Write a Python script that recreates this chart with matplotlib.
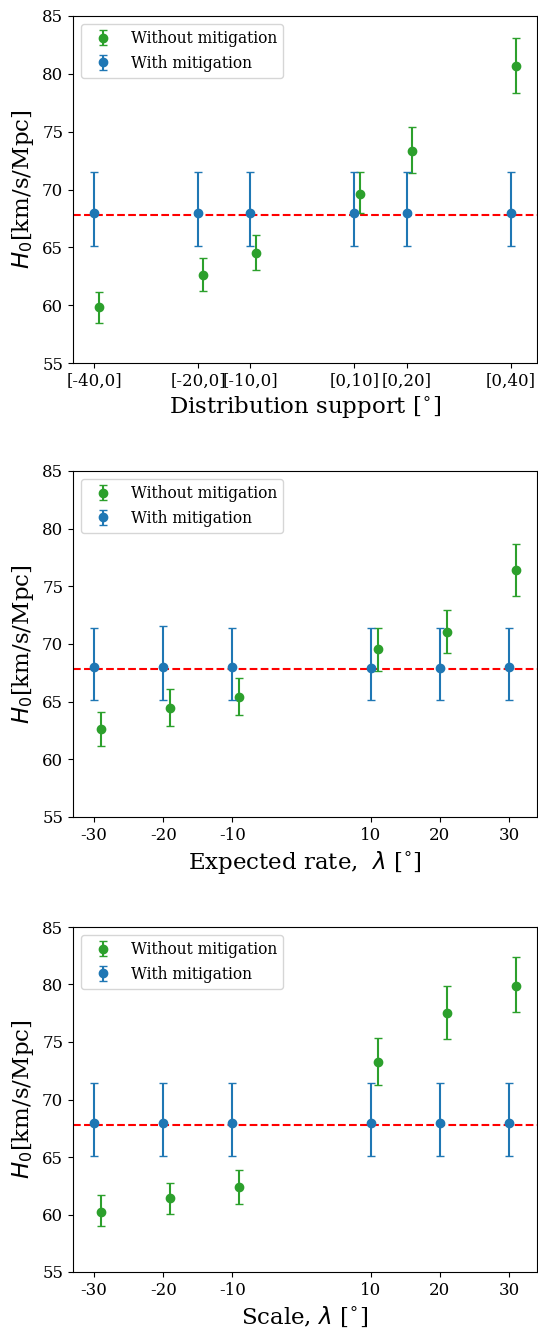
import matplotlib
matplotlib.use("Agg")
import matplotlib.pyplot as plt
import numpy as np

plt.rcParams['font.family'] = 'DejaVu Serif'
plt.rcParams['mathtext.fontset'] = 'dejavusans'

H0_ref = 67.8

# Panel 1: distribution support
x1 = [-40, -20, -10, 10, 20, 40]
x1_labels = ['[-40,0]', '[-20,0]', '[-10,0]', '[0,10]', '[0,20]', '[0,40]']
g1 = [59.8, 62.65, 64.5, 69.6, 73.3, 80.7]
g1_up = [1.3, 1.47, 1.55, 1.9, 2.1, 2.4]
g1_lo = [1.35, 1.44, 1.5, 1.6, 1.9, 2.35]
b1 = [68.0, 68.0, 68.0, 68.0, 68.0, 68.0]
b1_up = [3.5, 3.5, 3.5, 3.5, 3.5, 3.5]
b1_lo = [2.92, 2.92, 2.92, 2.92, 2.92, 2.92]

# Panel 2: expected rate
x2 = [-30, -20, -10, 10, 20, 30]
x2_labels = ['-30', '-20', '-10', '10', '20', '30']
g2 = [62.6, 64.46, 65.42, 69.55, 71.03, 76.38]
g2_up = [1.5, 1.62, 1.65, 1.88, 1.94, 2.26]
g2_lo = [1.45, 1.53, 1.54, 1.85, 1.85, 2.2]
b2 = [68.0, 68.0, 68.0, 67.95, 67.95, 68.0]
b2_up = [3.43, 3.53, 3.43, 3.48, 3.48, 3.43]
b2_lo = [2.87, 2.87, 2.87, 2.82, 2.82, 2.87]

# Panel 3: scale
x3 = [-30, -20, -10, 10, 20, 30]
x3_labels = ['-30', '-20', '-10', '10', '20', '30']
g3 = [60.24, 61.4, 62.35, 73.23, 77.54, 79.88]
g3_up = [1.44, 1.36, 1.48, 2.08, 2.34, 2.52]
g3_lo = [1.27, 1.36, 1.45, 2.0, 2.26, 2.31]
b3 = [68.0, 68.0, 68.0, 68.0, 68.0, 68.0]
b3_up = [3.46, 3.46, 3.46, 3.46, 3.46, 3.46]
b3_lo = [2.95, 2.95, 2.95, 2.95, 2.95, 2.95]

green_offset = 1.0

panels = [
    (x1, x1_labels, g1, g1_up, g1_lo, b1, b1_up, b1_lo, r'Distribution support [$^{\circ}$]'),
    (x2, x2_labels, g2, g2_up, g2_lo, b2, b2_up, b2_lo, r'Expected rate,  $\lambda$ [$^{\circ}$]'),
    (x3, x3_labels, g3, g3_up, g3_lo, b3, b3_up, b3_lo, r'Scale, $\lambda$ [$^{\circ}$]'),
]

fig = plt.figure(figsize=(5.38, 13.28), dpi=100)
positions = [
    [73/538, 1 - 363/1328, 464/538, 347/1328],
    [73/538, 1 - 817/1328, 464/538, 346/1328],
    [73/538, 1 - 1272/1328, 464/538, 345/1328],
]

for pos, (x, xl, g, gu, gl, b, bu, bl, xlabel) in zip(positions, panels):
    ax = fig.add_axes(pos)
    ax.axhline(H0_ref, color='red', linestyle='--', zorder=1)
    xg = np.array(x) + green_offset
    ax.errorbar(xg, g, yerr=[gl, gu], fmt='o', color='tab:green', capsize=3,
                label='Without mitigation', zorder=2)
    ax.errorbar(x, b, yerr=[bl, bu], fmt='o', color='tab:blue', capsize=3,
                label='With mitigation', zorder=3)
    ax.set_ylim(55, 85)
    ax.set_yticks([55, 60, 65, 70, 75, 80, 85])
    ax.set_xticks(x)
    ax.set_xticklabels(xl)
    ax.tick_params(labelsize=12)
    ax.set_ylabel(r'$H_0$[km/s/Mpc]', fontsize=16.5)
    ax.set_xlabel(xlabel, fontsize=16.5)
    ax.legend(loc='upper left', fontsize=11.2)

fig.savefig('out.png', dpi=100)
